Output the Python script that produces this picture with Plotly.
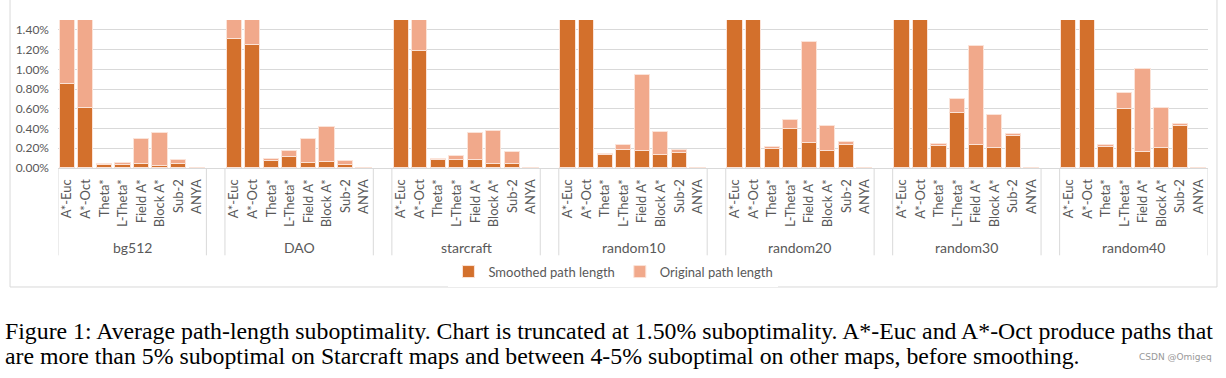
import plotly.graph_objects as go

groups = ["bg512", "DAO", "starcraft", "random10", "random20", "random30", "random40"]
methods = ["A*-Euc", "A*-Oct", "Theta*", "L-Theta*", "Field A*", "Block A*", "Sub-2", "ANYA"]

# values in percent, chart truncated at 1.50
smoothed = {
    "bg512":     [0.85, 0.61, 0.035, 0.034, 0.044, 0.024, 0.044, 0.0],
    "DAO":       [1.31, 1.25, 0.075, 0.112, 0.054, 0.061, 0.030, 0.0],
    "starcraft": [1.50, 1.19, 0.078, 0.081, 0.081, 0.041, 0.041, 0.0],
    "random10":  [1.50, 1.50, 0.132, 0.186, 0.173, 0.132, 0.153, 0.0],
    "random20":  [1.50, 1.50, 0.193, 0.397, 0.251, 0.173, 0.234, 0.0],
    "random30":  [1.50, 1.50, 0.220, 0.559, 0.234, 0.203, 0.325, 0.0],
    "random40":  [1.50, 1.50, 0.214, 0.600, 0.163, 0.203, 0.430, 0.0],
}
original = {
    "bg512":     [1.50, 1.50, 0.040, 0.054, 0.295, 0.350, 0.081, 0.0],
    "DAO":       [1.50, 1.50, 0.088, 0.170, 0.290, 0.417, 0.068, 0.0],
    "starcraft": [1.50, 1.50, 0.088, 0.122, 0.356, 0.373, 0.159, 0.0],
    "random10":  [1.50, 1.50, 0.139, 0.230, 0.939, 0.363, 0.186, 0.0],
    "random20":  [1.50, 1.50, 0.210, 0.490, 1.278, 0.430, 0.264, 0.0],
    "random30":  [1.50, 1.50, 0.241, 0.695, 1.240, 0.536, 0.349, 0.0],
    "random40":  [1.50, 1.50, 0.230, 0.756, 1.007, 0.610, 0.447, 0.0],
}

STEP = len(methods) + 1
xs, xlab, sm, og = [], [], [], []
for gi, g in enumerate(groups):
    for mi, m in enumerate(methods):
        xs.append(gi * STEP + mi)
        xlab.append(m)
        sm.append(smoothed[g][mi] / 100)
        og.append(original[g][mi] / 100)

DARK = "#D3702C"
LIGHT = "#F1A98B"
TXT = "#595959"
FONT = "Lato"

fig = go.Figure()
fig.add_trace(go.Bar(x=xs, y=og, name="Original path length", marker=dict(color=LIGHT, line=dict(color="#FBE3D8", width=1)),
                     width=0.82, legendrank=2))
fig.add_trace(go.Bar(x=xs, y=sm, name="Smoothed path length", marker=dict(color=DARK, line=dict(color="#FBE3D8", width=1)),
                     width=0.82, legendrank=1))

shapes = []
annotations = []
for gi, g in enumerate(groups):
    for xv in (gi * STEP - 0.5, gi * STEP + len(methods) - 0.5):
        shapes.append(dict(type="line", xref="x", yref="paper", x0=xv, x1=xv, y0=0, y1=-0.59,
                           line=dict(color="#D9D9D9", width=1)))
    annotations.append(dict(x=gi * STEP + (len(methods) - 1) / 2, y=-0.535, xref="x", yref="paper",
                            text=g, showarrow=False, font=dict(family=FONT, size=14, color=TXT),
                            xanchor="center", yanchor="middle"))

# chart border (left, right, bottom)
for (x0, y0, x1, y1) in [(-0.0417, 1.2, -0.0417, -0.804), (1.0078, 1.2, 1.0078, -0.804), (-0.0417, -0.804, 1.0078, -0.804)]:
    shapes.append(dict(type="line", xref="paper", yref="paper", x0=x0, y0=y0, x1=x1, y1=y1,
                       line=dict(color="#D9D9D9", width=1)))

annotations.append(dict(x=-0.0478, y=-1.10, xref="paper", yref="paper", xanchor="left", yanchor="middle",
                        showarrow=False,
                        text="Figure 1: Average path-length suboptimality. Chart is truncated at 1.50% suboptimality. A*-Euc and A*-Oct produce paths that",
                        font=dict(family="Liberation Serif", size=23.8, color="black")))
annotations.append(dict(x=-0.0478, y=-1.27, xref="paper", yref="paper", xanchor="left", yanchor="middle",
                        showarrow=False,
                        text="are more than 5% suboptimal on Starcraft maps and between 4-5% suboptimal on other maps, before smoothing.",
                        font=dict(family="Liberation Serif", size=23.8, color="black")))
annotations.append(dict(x=1.005, y=-1.28, xref="paper", yref="paper", xanchor="right", yanchor="middle",
                        showarrow=False, text="CSDN @Omigeq",
                        font=dict(family="DejaVu Sans", size=9, color="#999999")))

fig.update_layout(
    width=1226, height=378,
    margin=dict(l=58, r=18, t=20, b=210, autoexpand=False),
    barmode="overlay",
    paper_bgcolor="white", plot_bgcolor="white",
    showlegend=True,
    legend=dict(orientation="h", x=0.483, xanchor="center", y=-0.70, yanchor="middle",
                font=dict(family=FONT, size=13, color=TXT), itemwidth=30),
    shapes=shapes,
    annotations=annotations,
    xaxis=dict(range=[-0.5, len(groups) * STEP - 1.5], tickmode="array", tickvals=xs, ticktext=xlab,
               tickangle=-90, tickfont=dict(family=FONT, size=13, color=TXT), showgrid=False,
               zeroline=False, showline=True, linecolor="#D9D9D9", ticks="", automargin=False,
               ticklabelstandoff=5),
    yaxis=dict(range=[0, 0.015], dtick=0.002, tickformat=".2%", tickfont=dict(family=FONT, size=12, color=TXT),
               gridcolor="#D9D9D9", zeroline=False, showline=False, ticks="", automargin=False,
               ticklabelstandoff=8),
    bargap=0,
)

fig.write_html("out.html", config={"displayModeBar": False},
               post_script="document.body.style.margin='0px';document.body.style.overflow='hidden';")
